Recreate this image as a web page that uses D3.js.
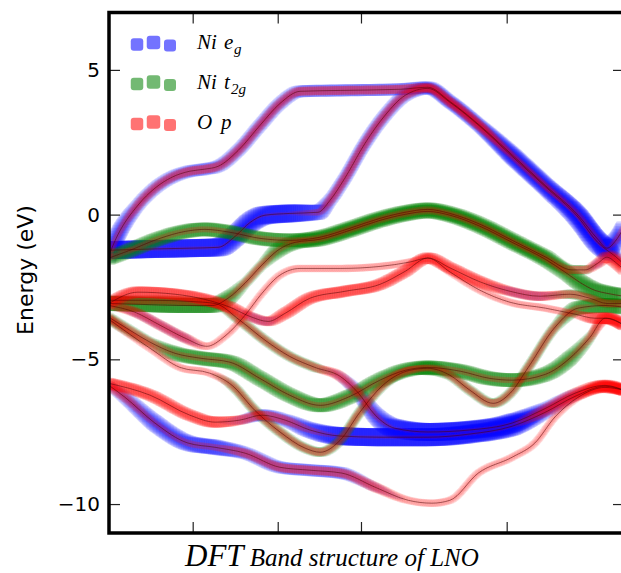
<!DOCTYPE html>
<html>
<head>
<meta charset="utf-8">
<script src="https://cdn.jsdelivr.net/npm/d3@7"></script>
<style>
  body { margin: 0; background: #fff; }
</style>
</head>
<body>
<div id="chart"></div>
<script>
// Band data: [k position along the path (0-100), energy in eV]
// codes give the orbital character at each point (see orbitalWeights)
const bandA = [[0,-1.40],[1.2,-0.89],[5.6,0.32],[8.9,0.91],[12.2,1.29],[15.7,1.50],[18.6,1.57],[21.2,1.67],[25.1,2.22],[29.3,3.08],[33.2,3.84],[37.1,4.26],[44.9,4.29],[56.5,4.33],[61.9,4.40],[66.2,3.91],[72.0,3.08],[78.3,2.06],[84.7,1.01],[91.1,-0.02],[94.9,-0.85],[96.7,-1.16],[98.3,-0.92],[100,-0.44]];
const codesA = "bbpppppppppppppppbbbbBbb";

const bandB = [[0,-1.23],[8.0,-1.19],[15.7,-1.16],[21.2,-1.13],[24.5,-0.75],[27.4,-0.27],[30.3,-0.02],[35.1,0.04],[40.6,0.08],[42.9,0.49],[45.8,1.26],[49.7,2.46],[53.6,3.43],[57.5,4.12],[61.9,4.36],[66.2,3.88],[72.0,3.05],[78.3,2.01],[84.7,0.97],[91.1,-0.09],[94.9,-0.96],[96.7,-1.23],[98.3,-1.44],[100,-1.72]];
const codesB = "BBBBBBBBbppppppppbbBBBpm";

const bandC1 = [[0,-1.50],[4.1,-1.23],[9.9,-0.82],[14.8,-0.58],[18.6,-0.51],[23.5,-0.61],[29.3,-0.82],[35.1,-0.89],[41.0,-0.78],[46.8,-0.47],[52.6,-0.13],[57.5,0.08],[61.9,0.18],[66.2,0.04],[72.0,-0.33],[78.3,-0.89],[84.7,-1.46],[89.9,-1.91],[92.4,-1.91],[94.9,-1.68],[96.7,-1.47],[98.3,-1.64],[100,-1.91]];
const codesC1 = "GGGGGGGGGGGGGGGGGoomRRR";

const bandC3 = [[0,-3.07],[6.0,-3.10],[13.8,-3.14],[20.0,-3.14],[23.1,-2.89],[26.4,-2.37],[29.7,-1.74],[32.8,-1.23],[36.1,-0.96],[41.0,-0.85],[46.8,-0.54],[52.6,-0.20],[57.5,0.01],[61.9,0.11],[66.2,-0.02],[72.0,-0.40],[78.3,-0.96],[84.7,-1.54],[88.5,-1.98],[91.5,-2.35],[94.4,-2.62],[96.7,-2.72],[100,-2.82]];
const codesC3 = "ggggGooGGGGGGGGGGGGgggg";

const bandOa = [[0,-3.07],[5.6,-2.68],[12.8,-2.75],[18.6,-2.93],[23.5,-3.20],[27.4,-3.52],[30.9,-3.69],[34.2,-3.41],[39.0,-2.89],[45.8,-2.65],[52.6,-2.41],[57.5,-1.96],[61.9,-1.50],[66.2,-1.84],[72.0,-2.32],[77.9,-2.65],[83.7,-2.82],[89.5,-2.75],[93.4,-2.89],[96.7,-3.07],[100,-3.07]];
const codesOa = "RRRRRmmRRRRRRRRmmoooo";

const bandOb = [[0,-3.14],[5.0,-3.37],[9.9,-3.82],[14.8,-4.27],[19.0,-4.55],[22.5,-4.20],[26.4,-3.48],[29.7,-2.72],[33.2,-2.09],[37.1,-1.86],[44.9,-1.86],[52.6,-1.79],[58.4,-1.64],[61.9,-1.50],[66.2,-1.98],[72.0,-2.61],[77.9,-3.03],[84.7,-3.23],[90.5,-3.44],[94.4,-3.58],[96.7,-3.58],[100,-3.82]];
const codesOb = "rmmmrrrrrrrrrrrrrrrRRR";

const bandJ = [[0,-2.96],[8.0,-2.96],[15.7,-3.00],[20.6,-3.07],[25.4,-3.65],[30.3,-4.34],[35.1,-4.90],[40.0,-5.28],[44.9,-5.59],[48.3,-6.14],[51.7,-6.93],[55.5,-7.38],[61.9,-7.51],[70.1,-7.44],[78.3,-7.20],[84.7,-6.70],[90.5,-6.17],[96.3,-5.90],[100,-6.07]];
const codesJ = "oooooooompbBBBBpmRR";

const bandD = [[0,-3.55],[4.1,-4.00],[8.0,-4.41],[12.8,-4.79],[17.7,-4.96],[23.5,-5.10],[29.3,-5.66],[35.1,-6.24],[41.0,-6.59],[46.8,-6.28],[52.6,-5.72],[57.5,-5.38],[61.9,-5.28],[68.2,-5.41],[74.0,-5.66],[78.3,-5.72],[84.7,-5.52],[89.5,-4.96],[93.4,-4.24],[96.3,-3.58],[100,-3.82]];
const codesD = "oooGGGGGGGGGGGGGGGoRR";

const bandI = [[0,-3.62],[8.0,-4.62],[13.8,-5.28],[19.6,-5.48],[23.9,-5.90],[28.3,-6.76],[33.2,-7.51],[38.1,-8.07],[41.0,-8.21],[44.9,-7.79],[48.7,-6.83],[53.6,-5.83],[58.4,-5.38],[61.9,-5.31],[66.2,-5.55],[70.1,-6.07],[74.6,-6.52],[77.9,-6.17],[81.4,-5.28],[86.6,-3.89],[91.1,-3.23],[96.3,-3.14],[100,-3.20]];
const codesI = "orrroooooooooGooooooGgg";

const bandF = [[0,-5.83],[8.0,-6.24],[15.7,-6.93],[20.6,-7.17],[25.4,-7.10],[29.7,-6.93],[34.2,-7.10],[39.0,-7.44],[44.9,-7.65],[52.6,-7.69],[61.9,-7.69],[70.1,-7.58],[78.3,-7.31],[84.7,-6.83],[90.5,-6.28],[96.3,-5.93],[100,-6.07]];
const codesF = "RRRRmppbBBBBBpmRR";

const bandG = [[0,-5.90],[3.1,-6.31],[8.9,-7.20],[15.3,-7.89],[20.6,-8.04],[26.4,-8.24],[33.2,-8.73],[39.0,-8.83],[45.2,-8.93],[51.7,-9.42],[58.1,-9.87],[62.7,-9.97],[66.2,-9.87],[71.7,-8.93],[78.3,-8.38],[82.7,-7.89],[86.6,-6.99],[91.1,-6.31],[96.3,-5.97],[100,-6.07]];
const codesG = "mpbbbppppmrrrrrrrrRR";

// weights [Ni eg, Ni t2g, O p] for each character code
const orbitalWeights = {
    B: [1.0, 0, 0.12], b: [0.7, 0, 0.32], p: [0.45, 0, 0.55], m: [0.25, 0, 0.65],
    G: [0, 0.85, 0.28], g: [0, 1.0, 0.05], o: [0, 0.42, 0.45],
    R: [0, 0, 0.9], r: [0, 0, 0.4]
};

const orbitalNames = ["Ni e_g", "Ni t_2g", "O p"];
const yTicks = [-10, -5, 0, 5];
const kTicks = [16.25, 32.76, 48.93, 77.22];

const bands = [
    { pts: bandG, codes: codesG }, { pts: bandF, codes: codesF },
    { pts: bandI, codes: codesI }, { pts: bandD, codes: codesD },
    { pts: bandJ, codes: codesJ }, { pts: bandOb, codes: codesOb },
    { pts: bandOa, codes: codesOa }, { pts: bandC3, codes: codesC3 },
    { pts: bandC1, codes: codesC1 }, { pts: bandB, codes: codesB },
    { pts: bandA, codes: codesA }
];

const width = 621, height = 573;
const colors = ["#0000ff", "#008000", "#ff0000"];
const maxSide = [18, 15, 12];

const svg = d3.select("#chart").append("svg")
    .attr("width", width)
    .attr("height", height)
    .style("font-family", "DejaVu Sans, sans-serif");

const x = d3.scaleLinear().domain([0, 100]).range([109, 624]);
const y = d3.scaleLinear().domain([-11, 7]).range([533, 12]);

const defs = svg.append("defs");
defs.append("clipPath").attr("id", "plot-clip")
    .append("rect").attr("x", 109).attr("y", 12).attr("width", 515).attr("height", 521);
defs.append("filter").attr("id", "soft")
    .append("feGaussianBlur").attr("stdDeviation", 0.6);

const plot = svg.append("g").attr("clip-path", "url(#plot-clip)");
const dotsG = plot.append("g").attr("filter", "url(#soft)");
const lineG = plot.append("g");

const line = d3.line()
    .x(d => x(d[0]))
    .y(d => y(d[1]))
    .curve(d3.curveMonotoneX);

// thin centre lines, then sample them for the fat-band squares
const samples = [[], [], []];
bands.forEach(band => {
    const path = lineG.append("path")
        .datum(band.pts)
        .attr("d", line)
        .attr("fill", "none")
        .attr("stroke", "#4a0000")
        .attr("stroke-opacity", 0.5)
        .attr("stroke-width", 1);
    const node = path.node();
    const len = node.getTotalLength();
    const ks = band.pts.map(d => d[0]);
    for (let s = 0; s <= len; s += 1.8) {
        const p = node.getPointAtLength(s);
        const k = x.invert(p.x);
        let i = Math.max(0, Math.min(ks.length - 2, d3.bisectRight(ks, k) - 1));
        const t = Math.max(0, Math.min(1, (k - ks[i]) / (ks[i + 1] - ks[i])));
        const w0 = orbitalWeights[band.codes[i]], w1 = orbitalWeights[band.codes[i + 1]];
        for (let o = 0; o < 3; o++) {
            const w = w0[o] + (w1[o] - w0[o]) * t;
            if (w > 0.04) samples[o].push({ x: p.x, y: p.y, w });
        }
    }
});

samples.forEach((pts, o) => {
    dotsG.append("g").selectAll("rect")
        .data(pts)
        .join("rect")
        .attr("x", d => d.x - maxSide[o] * Math.sqrt(d.w) / 2)
        .attr("y", d => d.y - maxSide[o] * Math.sqrt(d.w) / 2)
        .attr("width", d => maxSide[o] * Math.sqrt(d.w))
        .attr("height", d => maxSide[o] * Math.sqrt(d.w))
        .attr("rx", 2)
        .attr("fill", colors[o])
        .attr("fill-opacity", d => 0.05 + 0.13 * d.w);
});

// axes: ticks point inwards
function styleAxis(g) {
    g.select(".domain").remove();
    g.selectAll(".tick line").attr("stroke", "#222").attr("stroke-width", 1.2);
}

svg.append("g")
    .attr("transform", "translate(109,0)")
    .call(d3.axisLeft(y).tickValues(yTicks).tickSize(-11).tickPadding(9)
        .tickFormat(d => d < 0 ? "\u2212" + Math.abs(d) : d))
    .call(styleAxis)
    .call(g => g.selectAll("text").attr("fill", "#000")
        .style("font-size", "20px").style("font-family", "DejaVu Sans"));

svg.append("g")
    .attr("transform", "translate(624,0)")
    .call(d3.axisRight(y).tickValues(yTicks).tickSize(-11).tickFormat(""))
    .call(styleAxis);

svg.append("g")
    .attr("transform", "translate(0,12.5)")
    .call(d3.axisTop(x).tickValues(kTicks).tickSize(-11).tickFormat(""))
    .call(styleAxis);

svg.append("g")
    .attr("transform", "translate(0,533)")
    .call(d3.axisBottom(x).tickValues(kTicks).tickSize(-11).tickFormat(""))
    .call(styleAxis);

// frame
svg.append("rect")
    .attr("x", 109).attr("y", 12.5)
    .attr("width", 515).attr("height", 520.5)
    .attr("fill", "none")
    .attr("stroke", "#000")
    .attr("stroke-width", 3.5);

// y label
svg.append("text")
    .attr("transform", "translate(33,270) rotate(-90)")
    .attr("text-anchor", "middle")
    .style("font-size", "22px")
    .text("Energy (eV)");

// legend
const legendRows = [44, 83.5, 123.5];
const legendMarks = [{ cx: 137, dy: 0.5, s: 12.5 }, { cx: 153.5, dy: -1.5, s: 13.5 }, { cx: 170, dy: 1.5, s: 12 }];
const legend = svg.append("g");
orbitalNames.forEach((name, o) => {
    const ry = legendRows[o];
    legend.append("g").selectAll("rect")
        .data(legendMarks)
        .join("rect")
        .attr("x", d => d.cx - d.s / 2)
        .attr("y", d => ry + d.dy - d.s / 2)
        .attr("width", d => d.s)
        .attr("height", d => d.s)
        .attr("rx", 3)
        .attr("fill", colors[o])
        .attr("fill-opacity", 0.55);

    const [main, sub] = name.split("_");
    const t = legend.append("text")
        .attr("y", ry + 5)
        .style("font-family", "Liberation Serif, serif")
        .style("font-style", "italic")
        .style("font-size", "21px");
    const parts = main.split(" ");
    t.append("tspan").attr("x", 197).text(parts[0]);
    t.append("tspan").attr("x", parts[0] === "O" ? 221 : 224).text(parts[1]);
    if (sub) {
        t.append("tspan").attr("x", o === 0 ? 234 : 231).attr("dy", 5)
            .style("font-size", "15px").text(sub);
    }
});

// title under the axis
const title = svg.append("text")
    .attr("x", 185)
    .attr("y", 566)
    .style("font-family", "Liberation Serif, serif")
    .style("font-style", "italic");
title.append("tspan").style("font-size", "31px").text("DFT");
title.append("tspan").style("font-size", "25px").text(" Band structure of LNO");
</script>
</body>
</html>
